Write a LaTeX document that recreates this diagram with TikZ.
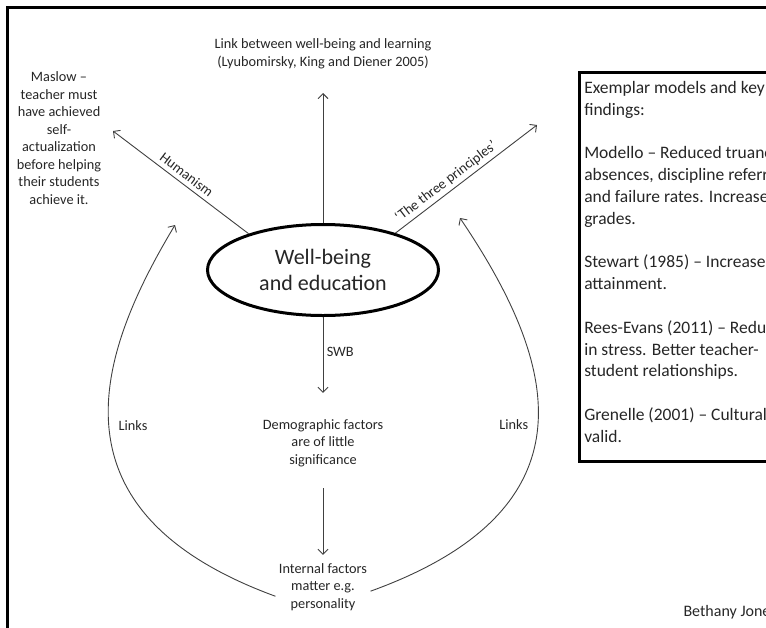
\documentclass[tikz,border=0pt]{standalone}
\usepackage{fontspec}
\setmainfont{Carlito}
\usetikzlibrary{arrows.meta,positioning,shapes.geometric}

\begin{document}
\begin{tikzpicture}[
  x=1pt, y=-1pt,
  txt/.style={align=center, text=black!85, font=\fontsize{14.3}{17.5}\selectfont},
  hubnode/.style={draw, ellipse, line width=3pt, inner sep=0pt, minimum width=231pt, minimum height=91pt, align=center, text=black!85, font=\fontsize{22}{26.5}\selectfont},
  findbox/.style={draw, line width=2.5pt, inner sep=5pt, anchor=north west, text=black!85, font=\fontsize{17.5}{21.8}\selectfont},
  arr/.style={-{Straight Barb[length=5pt,width=10pt]}, draw=black!75, line width=0.9pt},
  lbl/.style={font=\fontsize{14.3}{17.5}\selectfont, text=black!85}
]
\useasboundingbox (0,0) rectangle (766,627);
\clip (0,0) rectangle (766,627);

% Frame
\draw[line width=3pt] (820,7.5) -- (7.5,7.5) -- (7.5,680);

% Centre
\node[hubnode] (hub) at (323,270) {Well-being\\and education};

% Texts round it
\node[txt] (link) at (323,54) {Link between well-being and learning\\(Lyubomirsky, King and Diener 2005)};
\node[txt] (maslow) at (59,138) {Maslow --\\teacher must\\have achieved\\self-\\actualization\\before helping\\their students\\achieve it.};
\node[txt] (demo) at (323,443) {Demographic factors\\are of little\\significance};
\node[txt] (intf) at (323,587) {Internal factors\\matter e.g.\\personality};

% Findings
\node[findbox] (models) at (578,71) {\begin{minipage}[t][379pt][t]{250pt}
\vspace*{4pt}
Exemplar models and key\\
findings:\\[21.8pt]
Modello -- Reduced truanc\\
absences, discipline referr\\
and failure rates. Increase\\
grades.\\[21.8pt]
Stewart (1985) -- Increase\\
attainment.\\[21.8pt]
Rees-Evans (2011) -- Reduc\\
in stress. Better teacher-\\
student relationships.\\[21.8pt]
Grenelle (2001) -- Cultural\\
valid.
\end{minipage}};

\node[lbl, anchor=west, font=\fontsize{16}{19}\selectfont] (author) at (680,612) {Bethany Jone};

% Free ends
\coordinate (uptip) at (323,93);
\coordinate (maslowtip) at (113,131);
\coordinate (prtip) at (537,125);
\coordinate (linkL) at (175,225);
\coordinate (linkR) at (460,218);

% Arrows
\draw[arr] (hub) -- (uptip);
\draw[arr] (hub.154) -- (maslowtip) node[lbl, pos=0.5, sloped, above=1pt] {Humanism};
\draw[arr] (hub.27) -- (prtip) node[lbl, pos=0.40, sloped, above=0pt] {‘The three principles’};
\draw[arr, shorten >=23pt] (hub) -- (demo) node[lbl, pos=0.35, right] {SWB};
\draw[arr, shorten <=18pt, shorten >=5pt] (demo) -- (intf);

% Links
\draw[arr] (intf.191) .. controls (40,510) and (100,350) .. (linkL) node[lbl, pos=0.5, right=6pt] {Links};
\draw[arr] (intf.355) .. controls (609,505) and (549,350) .. (linkR) node[lbl, pos=0.493, left=6pt] {Links};

\end{tikzpicture}
\end{document}
